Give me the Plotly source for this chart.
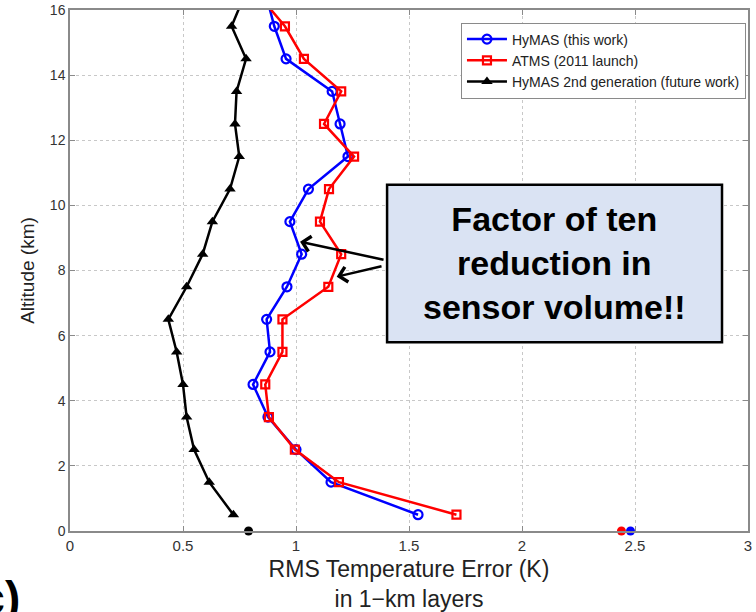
import plotly.graph_objects as go

altitude = [0.5, 1.5, 2.5, 3.5, 4.5, 5.5, 6.5, 7.5, 8.5, 9.5, 10.5, 11.5, 12.5, 13.5, 14.5, 15.5, 16.5]
hymas = [1.54, 1.155, 1.0, 0.876, 0.81, 0.885, 0.87, 0.96, 1.025, 0.973, 1.055, 1.23, 1.195, 1.16, 0.956, 0.904, 0.866]
atms = [1.71, 1.19, 0.995, 0.88, 0.864, 0.94, 0.94, 1.143, 1.2, 1.106, 1.146, 1.257, 1.124, 1.2, 1.035, 0.951, 0.83]
hymas2 = [0.723, 0.616, 0.549, 0.516, 0.50, 0.472, 0.435, 0.516, 0.587, 0.63, 0.708, 0.749, 0.73, 0.737, 0.779, 0.715, 0.775]

surface_x = [0.79, 2.44, 2.48]
surface_y = [0, 0, 0]
surface_colors = ["black", "red", "blue"]

x_ticks = [0, 0.5, 1, 1.5, 2, 2.5, 3]
x_ticklabels = ["0", "0.5", "1", "1.5", "2", "2.5", "3"]
y_ticks = [0, 2, 4, 6, 8, 10, 12, 14, 16]

FONT = "Liberation Sans, Arial, Helvetica, sans-serif"

fig = go.Figure()
fig.add_trace(go.Scatter(x=hymas, y=altitude, mode="lines+markers", name="HyMAS (this work)",
                         line=dict(color="#0000ff", width=2.5),
                         marker=dict(symbol="circle-open", size=9, line=dict(width=2.2, color="#0000ff")),
                         cliponaxis=True))
fig.add_trace(go.Scatter(x=atms, y=altitude, mode="lines+markers", name="ATMS (2011 launch)",
                         line=dict(color="#ff0000", width=2.5),
                         marker=dict(symbol="square-open", size=8, line=dict(width=2.2, color="#ff0000")),
                         cliponaxis=True))
fig.add_trace(go.Scatter(x=hymas2, y=altitude, mode="lines+markers", name="HyMAS 2nd generation (future work)",
                         line=dict(color="black", width=2.5),
                         marker=dict(symbol="triangle-up", size=10, color="black"),
                         cliponaxis=True))
fig.add_trace(go.Scatter(x=surface_x, y=surface_y, mode="markers", showlegend=False,
                         marker=dict(symbol="circle", size=9, color=surface_colors),
                         cliponaxis=False))

axis_common = dict(showline=True, linecolor="#8a8a8a", linewidth=1.5, mirror="ticks",
                   ticks="inside", ticklen=5, tickcolor="#8a8a8a", tickwidth=1,
                   showgrid=True, gridcolor="#c8c8c8", griddash="dot", gridwidth=1,
                   zeroline=False, automargin=False)

fig.update_xaxes(range=[0, 3], tickvals=x_ticks, ticktext=x_ticklabels,
                 tickfont=dict(family=FONT, size=15, color="#333333"),
                 title=dict(text="RMS Temperature Error (K)<br>in 1\u2212km layers",
                            font=dict(family=FONT, size=23, color="#222222"), standoff=11),
                 **axis_common)
fig.update_yaxes(range=[0, 16], tickvals=y_ticks,
                 tickfont=dict(family=FONT, size=14, color="#333333"),
                 title=dict(text="Altitude (km)", font=dict(family=FONT, size=19, color="#222222"), standoff=10),
                 **axis_common)

# annotation box
fig.add_shape(type="rect", xref="x", yref="y", x0=1.403, x1=2.885, y0=5.80, y1=10.63,
              fillcolor="#dae3f3", line=dict(color="black", width=2.5), layer="above")
fig.add_annotation(xref="x", yref="y", x=2.144, y=8.23, showarrow=False,
                   text="<b>Factor of ten<br>reduction in<br>sensor volume!!</b>",
                   font=dict(family=FONT, size=34, color="black"), align="center")
# arrows
fig.add_annotation(xref="x", yref="y", axref="x", ayref="y", x=1.018, y=8.885, ax=1.394, ay=8.32,
                   text="", showarrow=True, arrowhead=4, arrowsize=1.2, arrowwidth=2.5, arrowcolor="black")
fig.add_annotation(xref="x", yref="y", axref="x", ayref="y", x=1.18, y=7.81, ax=1.385, ay=8.14,
                   text="", showarrow=True, arrowhead=4, arrowsize=1.2, arrowwidth=2.5, arrowcolor="black")
# partial panel label
fig.add_annotation(xref="paper", yref="paper", x=-0.071, y=-0.128, xanchor="right", yanchor="middle",
                   text="<b>(c)</b>", showarrow=False, font=dict(family=FONT, size=46, color="black"))

fig.update_layout(
    width=756, height=612,
    margin=dict(l=70, r=8, t=10, b=81),
    paper_bgcolor="white", plot_bgcolor="white",
    font=dict(family=FONT),
    legend=dict(x=0.997, y=0.976, xanchor="right", yanchor="top",
                bgcolor="white", bordercolor="#8a8a8a", borderwidth=1,
                font=dict(family=FONT, size=14, color="#222222"),
                tracegroupgap=0, itemwidth=40),
    showlegend=True,
)

fig.write_html("out.html")
